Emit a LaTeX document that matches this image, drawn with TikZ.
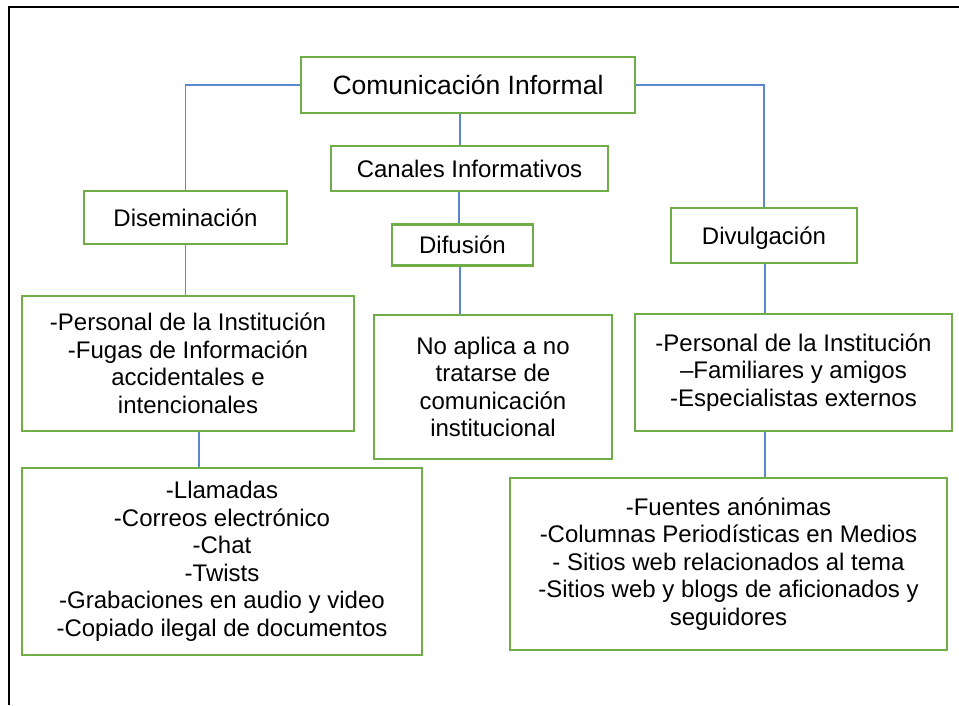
\documentclass[tikz,border=0pt]{standalone}
\usepackage{fontspec}
\setmainfont{Liberation Sans}
\usetikzlibrary{calc}
\definecolor{boxgreen}{HTML}{70AD47}
\definecolor{linkblue}{HTML}{5A87CD}
\begin{document}
\begin{tikzpicture}[x=1pt,y=-1pt,
  box/.style={draw=boxgreen, line width=2.6pt, fill=white, inner sep=0pt, align=center,
    font=\fontsize{24}{27.5}\selectfont},
  single/.style={text height=17pt, text depth=0pt},
  link/.style={draw=linkblue, line width=1.2pt}]
\useasboundingbox (0,0) rectangle (959,705);
\draw[line width=2pt] (9,705) -- (9,7) -- (959,7);

\node[box, single, minimum width=334pt, minimum height=56pt, font=\fontsize{26.5}{30}\selectfont, text height=19pt] (top) at (468,85) {Comunicación Informal};
\node[box, single, minimum width=277pt, minimum height=45pt] (canales) at (469.5,168.5) {Canales Informativos};
\node[box, single, minimum width=141pt, minimum height=41pt] (difusion) at (462.5,245) {Difusión};
\node[box, single, minimum width=203pt, minimum height=53pt] (disem) at (185.5,217.5) {Diseminación};
\node[box, single, minimum width=186pt, minimum height=55pt] (divulg) at (764,235.5) {Divulgación};

\node[box, minimum width=332pt, minimum height=135pt] (persL) at (188,363.5)
  {-Personal de la Institución\\-Fugas de Información\\accidentales e\\intencionales};
\node[box, minimum width=238pt, minimum height=144pt] (noapl) at (493,387)
  {No aplica a no\\tratarse de\\comunicación\\institucional};
\node[box, minimum width=317pt, minimum height=117pt] (persR) at (793.5,372.5)
  {-Personal de la Institución\\–Familiares y amigos\\-Especialistas externos};
\node[box, minimum width=400pt, minimum height=187pt] (llam) at (222,561.5)
  {-Llamadas\\-Correos electrónico\\-Chat\\-Twists\\-Grabaciones en audio y video\\-Copiado ilegal de documentos};
\node[box, minimum width=437pt, minimum height=172pt] (fuent) at (728.5,564)
  {-Fuentes anónimas\\-Columnas Periodísticas en Medios\\- Sitios web relacionados al tema\\-Sitios web y blogs de aficionados y\\seguidores};

\coordinate (xa) at (460,0);
\coordinate (xb) at (459,0);
\coordinate (xc) at (199,0);
\coordinate (xd) at (765,0);

\draw[link] (top.west) -| (disem.north);
\draw[link] (top.east) -| (divulg.north);
\draw[link] (top.south -| xa) -- (canales.north -| xa);
\draw[link] (canales.south -| xb) -- (difusion.north -| xb);
\draw[link] (difusion.south -| xa) -- (noapl.north -| xa);
\draw[link] (disem.south) -- (persL.north -| disem.south);
\draw[link] (persL.south -| xc) -- (llam.north -| xc);
\draw[link] (divulg.south -| xd) -- (persR.north -| xd);
\draw[link] (persR.south -| xd) -- (fuent.north -| xd);
\end{tikzpicture}
\end{document}
